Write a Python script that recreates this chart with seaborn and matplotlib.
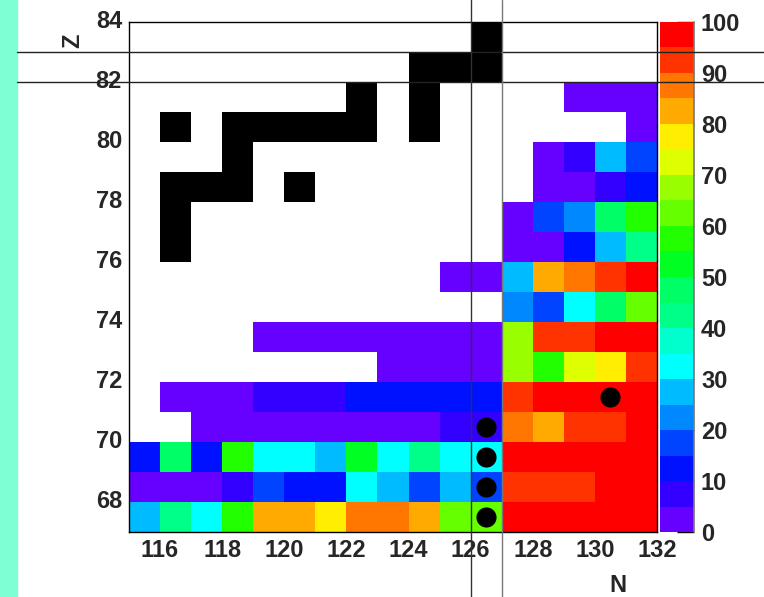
import numpy as np
import pandas as pd
import matplotlib
matplotlib.use("Agg")
import matplotlib.pyplot as plt
import seaborn as sns
from matplotlib.colors import ListedColormap
from matplotlib.lines import Line2D
from matplotlib.patches import Rectangle
import matplotlib.transforms as mtransforms

sns.set_style("white")
plt.rcParams['font.family'] = ['Liberation Sans', 'DejaVu Sans']
plt.rcParams['font.weight'] = 'bold'

# ---------------- data ----------------
nan = np.nan
N_bins = list(range(115, 132))          # bin lower edges, N
Z_bins = list(range(83, 66, -1))        # bin lower edges, Z (top row first)

# values per Z row, for N = 115 ... 131
z83 = [nan] * 17
z82 = [nan] * 17
z81 = [nan] * 14 + [2, 2, 3]
z80 = [nan] * 16 + [3]
z79 = [nan] * 13 + [2, 8, 28, 17]
z78 = [nan] * 13 + [3, 4, 9, 13]
z77 = [nan] * 12 + [2, 18, 23, 47, 57]
z76 = [nan] * 12 + [3, 4, 13, 27, 42]
z75 = [nan] * 10 + [2, 2, 27, 83, 87, 92, 97]
z74 = [nan] * 12 + [22, 17, 33, 47, 62]
z73 = [nan] * 4 + [2] * 8 + [68, 92, 93, 97, 98]
z72 = [nan] * 8 + [3] * 4 + [67, 57, 72, 77, 92]
z71 = [nan] + [3, 3, 3] + [8, 8, 8] + [12, 12, 12, 12, 12] + [93, 97, 97, 97, 97]
z70 = [nan, nan] + [3] * 8 + [7, 7] + [88, 83, 92, 93, 97]
z69 = [12, 46, 13, 57, 32, 33, 28, 53, 33, 42, 33, 32, 97, 97, 97, 97, 97]
z68 = [3, 3, 3, 8, 17, 13, 13, 33, 28, 18, 27, 17, 92, 92, 92, 97, 97]
z67 = [27, 42, 33, 57, 83, 83, 77, 88, 87, 83, 63, 62, 98, 98, 98, 98, 98]

# black (stable) cells
black_N = [126, 124, 125, 126, 122, 124, 116, 118, 119, 120, 121, 122, 124,
           118, 116, 117, 118, 120, 116, 116]
black_Z = [83, 82, 82, 82, 81, 81, 80, 80, 80, 80, 80, 80, 80,
           79, 78, 78, 78, 78, 77, 76]

# black dots (bin centres)
dot_N = [126.5, 126.5, 126.5, 126.5, 130.5]
dot_Z = [70.5, 69.5, 68.5, 67.5, 71.5]

# magic numbers
magic_Z = [82, 83]
magic_N = [126, 127]

x_ticks = list(range(116, 133, 2))
y_ticks = list(range(68, 85, 2))
cbar_ticks = list(range(0, 101, 10))

palette = ['#6600FF', '#3300FF', '#0011FF', '#0044FF', '#0088FF',
           '#00BBFF', '#00FFFF', '#00FFCC', '#00FF88', '#00FF66',
           '#00FF22', '#22FF00', '#66FF00', '#99FF00', '#DDFF00',
           '#FFEE00', '#FFAA00', '#FF7700', '#FF3300', '#FF0000']

# ---------------- build tables ----------------
rows = [z83, z82, z81, z80, z79, z78, z77, z76, z75, z74, z73, z72,
        z71, z70, z69, z68, z67]
df = pd.DataFrame(rows, index=Z_bins, columns=N_bins)

black = pd.DataFrame(np.nan, index=Z_bins, columns=N_bins)
for n, z in zip(black_N, black_Z):
    black.loc[z, n] = 1.0

N0 = N_bins[0]
Ztop = Z_bins[0] + 1


def xpos(n):
    return n - N0


def ypos(z):
    return Ztop - z


# ---------------- figure ----------------
W, H = 764, 597
FS = 17
fig = plt.figure(figsize=(W / 100, H / 100), dpi=100)
ax = fig.add_axes([129 / W, 1 - 532 / H, (657 - 129) / W, (532 - 22) / H])
cax = fig.add_axes([660 / W, 1 - 532 / H, 34 / W, (532 - 22) / H])

cmap = ListedColormap(palette)
sns.heatmap(df, ax=ax, cmap=cmap, vmin=0, vmax=100, cbar_ax=cax,
            cbar_kws={'ticks': cbar_ticks}, linewidths=0)
sns.heatmap(black, ax=ax, cmap=ListedColormap(['black']), cbar=False,
            linewidths=0)

sns.scatterplot(x=[xpos(n) for n in dot_N], y=[ypos(z) for z in dot_Z],
                ax=ax, s=210, color='black', linewidth=0, zorder=5,
                legend=False)

ax.set_xlim(0, len(N_bins))
ax.set_ylim(len(Z_bins), 0)
ax.set_xticks([xpos(n) for n in x_ticks])
ax.set_xticklabels([str(n) for n in x_ticks], rotation=0)
ax.set_yticks([ypos(z) for z in y_ticks])
ax.set_yticklabels([str(z) for z in y_ticks], rotation=0)
ax.set_xlabel('')
ax.set_ylabel('')
ax.tick_params(axis='x', length=0, labelsize=FS, pad=5)
ax.tick_params(axis='y', length=0, labelsize=FS, pad=5)
for lab in ax.get_xticklabels() + ax.get_yticklabels():
    lab.set_fontweight('bold')
for s in ax.spines.values():
    s.set_visible(True)
    s.set_color('black')
    s.set_linewidth(1)

# colorbar styling
cb = ax.collections[0].colorbar
cb.outline.set_visible(False)
cax.tick_params(axis='y', direction='in', length=12, width=1, color='black',
                labelsize=FS, pad=5, right=True, left=False)
for lab in cax.get_yticklabels():
    lab.set_fontweight('bold')
cax.add_line(Line2D([1, 1], [0, 1], transform=cax.transAxes, color='#777777',
                    lw=1.2, clip_on=False))

# aquamarine strip
fig.add_artist(Rectangle((0, 0), 17 / W, 1, transform=fig.transFigure,
                         color='#7FFFD4', zorder=0))

# magic-number lines across figure
th = mtransforms.blended_transform_factory(fig.transFigure, ax.transData)
for z in magic_Z:
    fig.add_artist(Line2D([17 / W, 1], [ypos(z), ypos(z)], transform=th,
                          color='#222222', lw=1, zorder=10))
tv = mtransforms.blended_transform_factory(ax.transData, fig.transFigure)
for n, c in zip(magic_N, ['#333333', '#777777']):
    fig.add_artist(Line2D([xpos(n), xpos(n)], [0, 1], transform=tv,
                          color=c, lw=1, zorder=10))

# axis titles
fig.text(618 / W, 1 - 585 / H, 'N', ha='center', va='center',
         fontsize=FS, fontweight='bold')
fig.text(73 / W, 1 - 41 / H, 'Z', ha='center', va='center', rotation=90,
         fontsize=FS, fontweight='bold')

fig.savefig('out.png', dpi=100)
